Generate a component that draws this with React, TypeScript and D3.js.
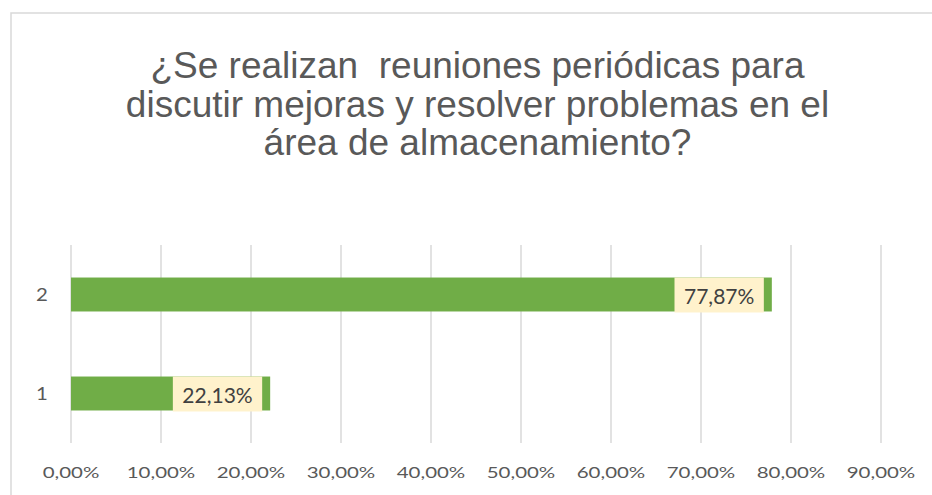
import React, { useEffect, useRef } from 'react';
import * as d3 from 'd3';

const titleLines = [
  '¿Se realizan  reuniones periódicas para',
  'discutir mejoras y resolver problemas en el',
  'área de almacenamiento?',
];
const categories = ['1', '2'];
const values = [0.2213, 0.7787];
const tickValues = [0, 0.1, 0.2, 0.3, 0.4, 0.5, 0.6, 0.7, 0.8, 0.9];

const fmt = (d: number) => (d * 100).toFixed(2).replace('.', ',') + '%';

export default function App() {
  const svgRef = useRef<SVGSVGElement>(null);
  const width = 932;
  const height = 495;
  const margin = { top: 245, right: 51, bottom: 52, left: 71 };

  useEffect(() => {
    const svg = d3.select(svgRef.current);
    svg.selectAll('*').remove();

    // chart area border
    svg.append('rect')
      .attr('x', 11)
      .attr('y', 13)
      .attr('width', 960)
      .attr('height', 520)
      .attr('fill', '#fff')
      .attr('stroke', '#d9d9d9')
      .attr('stroke-width', 1.5);

    const title = svg.append('text')
      .attr('text-anchor', 'middle')
      .attr('font-family', '"Liberation Sans", Arial, sans-serif')
      .attr('font-size', 37)
      .attr('fill', '#595959')
      .style('white-space', 'pre');
    titleLines.forEach((line, i) => {
      title.append('tspan')
        .attr('x', 477.5)
        .attr('y', 78 + i * 38.5)
        .text(line);
    });

    const x = d3.scaleLinear()
      .domain([0, 0.9])
      .range([margin.left, width - margin.right]);

    const y = d3.scaleBand<string>()
      .domain([...categories].reverse())
      .range([margin.top, height - margin.bottom])
      .paddingInner(0.657)
      .paddingOuter(0.3285);

    // gridlines
    svg.append('g')
      .selectAll('line')
      .data(tickValues)
      .enter()
      .append('line')
      .attr('x1', d => x(d))
      .attr('x2', d => x(d))
      .attr('y1', margin.top)
      .attr('y2', height - margin.bottom)
      .attr('stroke', '#d9d9d9')
      .attr('stroke-width', 1.5);

    // bars
    svg.append('g')
      .selectAll('rect')
      .data(values)
      .enter()
      .append('rect')
      .attr('x', x(0))
      .attr('y', (d, i) => y(categories[i])!)
      .attr('width', d => x(d) - x(0))
      .attr('height', y.bandwidth())
      .attr('fill', '#70ad47');

    // data labels (inside end, with fill)
    const labels = svg.append('g');
    values.forEach((v, i) => {
      const g = labels.append('g');
      const rect = g.append('rect').attr('fill', '#fff2cc');
      const t = g.append('text')
        .attr('font-family', 'Lato, sans-serif')
        .attr('font-size', 21)
        .attr('fill', '#404040')
        .attr('text-anchor', 'middle')
        .attr('dominant-baseline', 'central')
        .text(fmt(v));
      const tw = (t.node() as SVGTextElement).getComputedTextLength();
      const bw = tw + 19;
      const right = x(v) - 8;
      const top = y(categories[i])!;
      rect.attr('x', right - bw)
        .attr('y', top)
        .attr('width', bw)
        .attr('height', y.bandwidth() + 1);
      t.attr('x', right - bw / 2).attr('y', top + y.bandwidth() / 2 + 1);
    });

    // x tick labels
    svg.append('g')
      .selectAll('text')
      .data(tickValues)
      .enter()
      .append('text')
      .attr('transform', d => `translate(${x(d)},478) scale(1.28,1)`)
      .attr('text-anchor', 'middle')
      .attr('font-family', 'Lato, sans-serif')
      .attr('font-size', 16)
      .attr('fill', '#595959')
      .text(d => fmt(d));

    // y category labels
    svg.append('g')
      .selectAll('text')
      .data(categories)
      .enter()
      .append('text')
      .attr('transform', d => `translate(42,${y(d)! + y.bandwidth() / 2 + 6}) scale(1.2,1)`)
      .attr('text-anchor', 'middle')
      .attr('font-family', 'Lato, sans-serif')
      .attr('font-size', 17)
      .attr('fill', '#595959')
      .text(d => d);
  }, []);

  return (
    <svg
      ref={svgRef}
      width={width}
      height={height}
      style={{ position: 'absolute', left: 0, top: 0, display: 'block' }}
    ></svg>
  );
}
